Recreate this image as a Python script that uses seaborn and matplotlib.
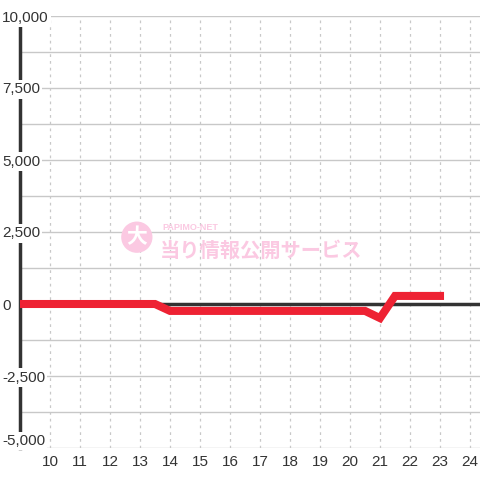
import matplotlib
matplotlib.use("Agg")
import matplotlib.pyplot as plt
import seaborn as sns
import pandas as pd

hours = [9.0, 9.5, 10.0, 10.5, 11.0, 11.5, 12.0, 12.5, 13.0, 13.5, 14.0, 14.5, 15.0,
         15.5, 16.0, 16.5, 17.0, 17.5, 18.0, 18.5, 19.0, 19.5, 20.0, 20.5, 21.0,
         21.5, 22.0, 22.5, 23.0]
values = [0, 0, 0, 0, 0, 0, 0, 0, 0, 0, -240, -240, -240,
          -240, -240, -240, -240, -240, -240, -240, -240, -240, -240, -240, -490,
          280, 280, 280, 280]
xticks = list(range(10, 25))
yticks = [-5000, -2500, 0, 2500, 5000, 7500, 10000]
ylabels = ["-5,000", "-2,500", "0", "2,500", "5,000", "7,500", "10,000"]

sns.set_theme(style="white")
plt.rcParams['font.family'] = ['Liberation Sans', 'Noto Sans CJK JP', 'DejaVu Sans']

fig = plt.figure(figsize=(4.8, 4.8), dpi=100)
ax = fig.add_axes([20/480, 32/480, 460/480, 432/480])
ax.set_xlim(9, 9 + 460/30)
ax.set_ylim(-5000, 10000)

# grids
for y in range(-5000, 10001, 1250):
    ax.axhline(y, color="#c8c8c8", lw=1, zorder=1)
for x in xticks:
    ax.axvline(x, color="#c8c8c8", lw=0.9, ls=(0, (2.2, 3.2)), zorder=1)
ax.axhline(0, color="#333333", lw=2.5, zorder=2)

df = pd.DataFrame({"hour": hours, "value": values})
sns.lineplot(data=df, x="hour", y="value", color="#ee2233", lw=5.8, ax=ax,
             zorder=4, solid_capstyle="projecting", solid_joinstyle="miter")

# watermark
ax.text(0.254, 0.488, "大", transform=ax.transAxes, fontsize=15, color="white",
        ha="center", va="center", fontweight="bold", zorder=3,
        bbox=dict(boxstyle="circle,pad=0.25", fc="#fbc9e2", ec="none"))
ax.text(0.31, 0.51, "PAPIMO-NET", transform=ax.transAxes, fontsize=6.5,
        color="#fbc9e2", ha="left", va="center", zorder=3, fontweight="bold")
ax.text(0.303, 0.458, "当り情報公開サービス", transform=ax.transAxes, fontsize=14.6,
        color="#fbc9e2", ha="left", va="center", zorder=3, fontweight="bold",
        family=['Noto Sans CJK JP', 'DejaVu Sans'])

for s in ["top", "right", "bottom"]:
    ax.spines[s].set_visible(False)
ax.spines["left"].set_color("#333333")
ax.spines["left"].set_linewidth(2.5)
ax.spines["left"].set_zorder(3)

ax.set_xticks(xticks)
ax.set_xticklabels([str(x) for x in xticks])
ax.set_yticks(yticks)
ax.set_yticklabels(ylabels)
ax.tick_params(axis="both", length=0, labelsize=11, labelcolor="#333333")
ax.tick_params(axis="x", pad=5)
ax.tick_params(axis="y", pad=13)
for lab in ax.get_yticklabels():
    lab.set_ha("left")
    lab.set_bbox(dict(fc="white", ec="none", pad=1.5))
    lab.set_zorder(5)
ax.get_yticklabels()[0].set_va("bottom")
ax.set_xlabel("")
ax.set_ylabel("")
ax.yaxis.set_zorder(5)

fig.savefig("out.png", dpi=100, facecolor="white")
